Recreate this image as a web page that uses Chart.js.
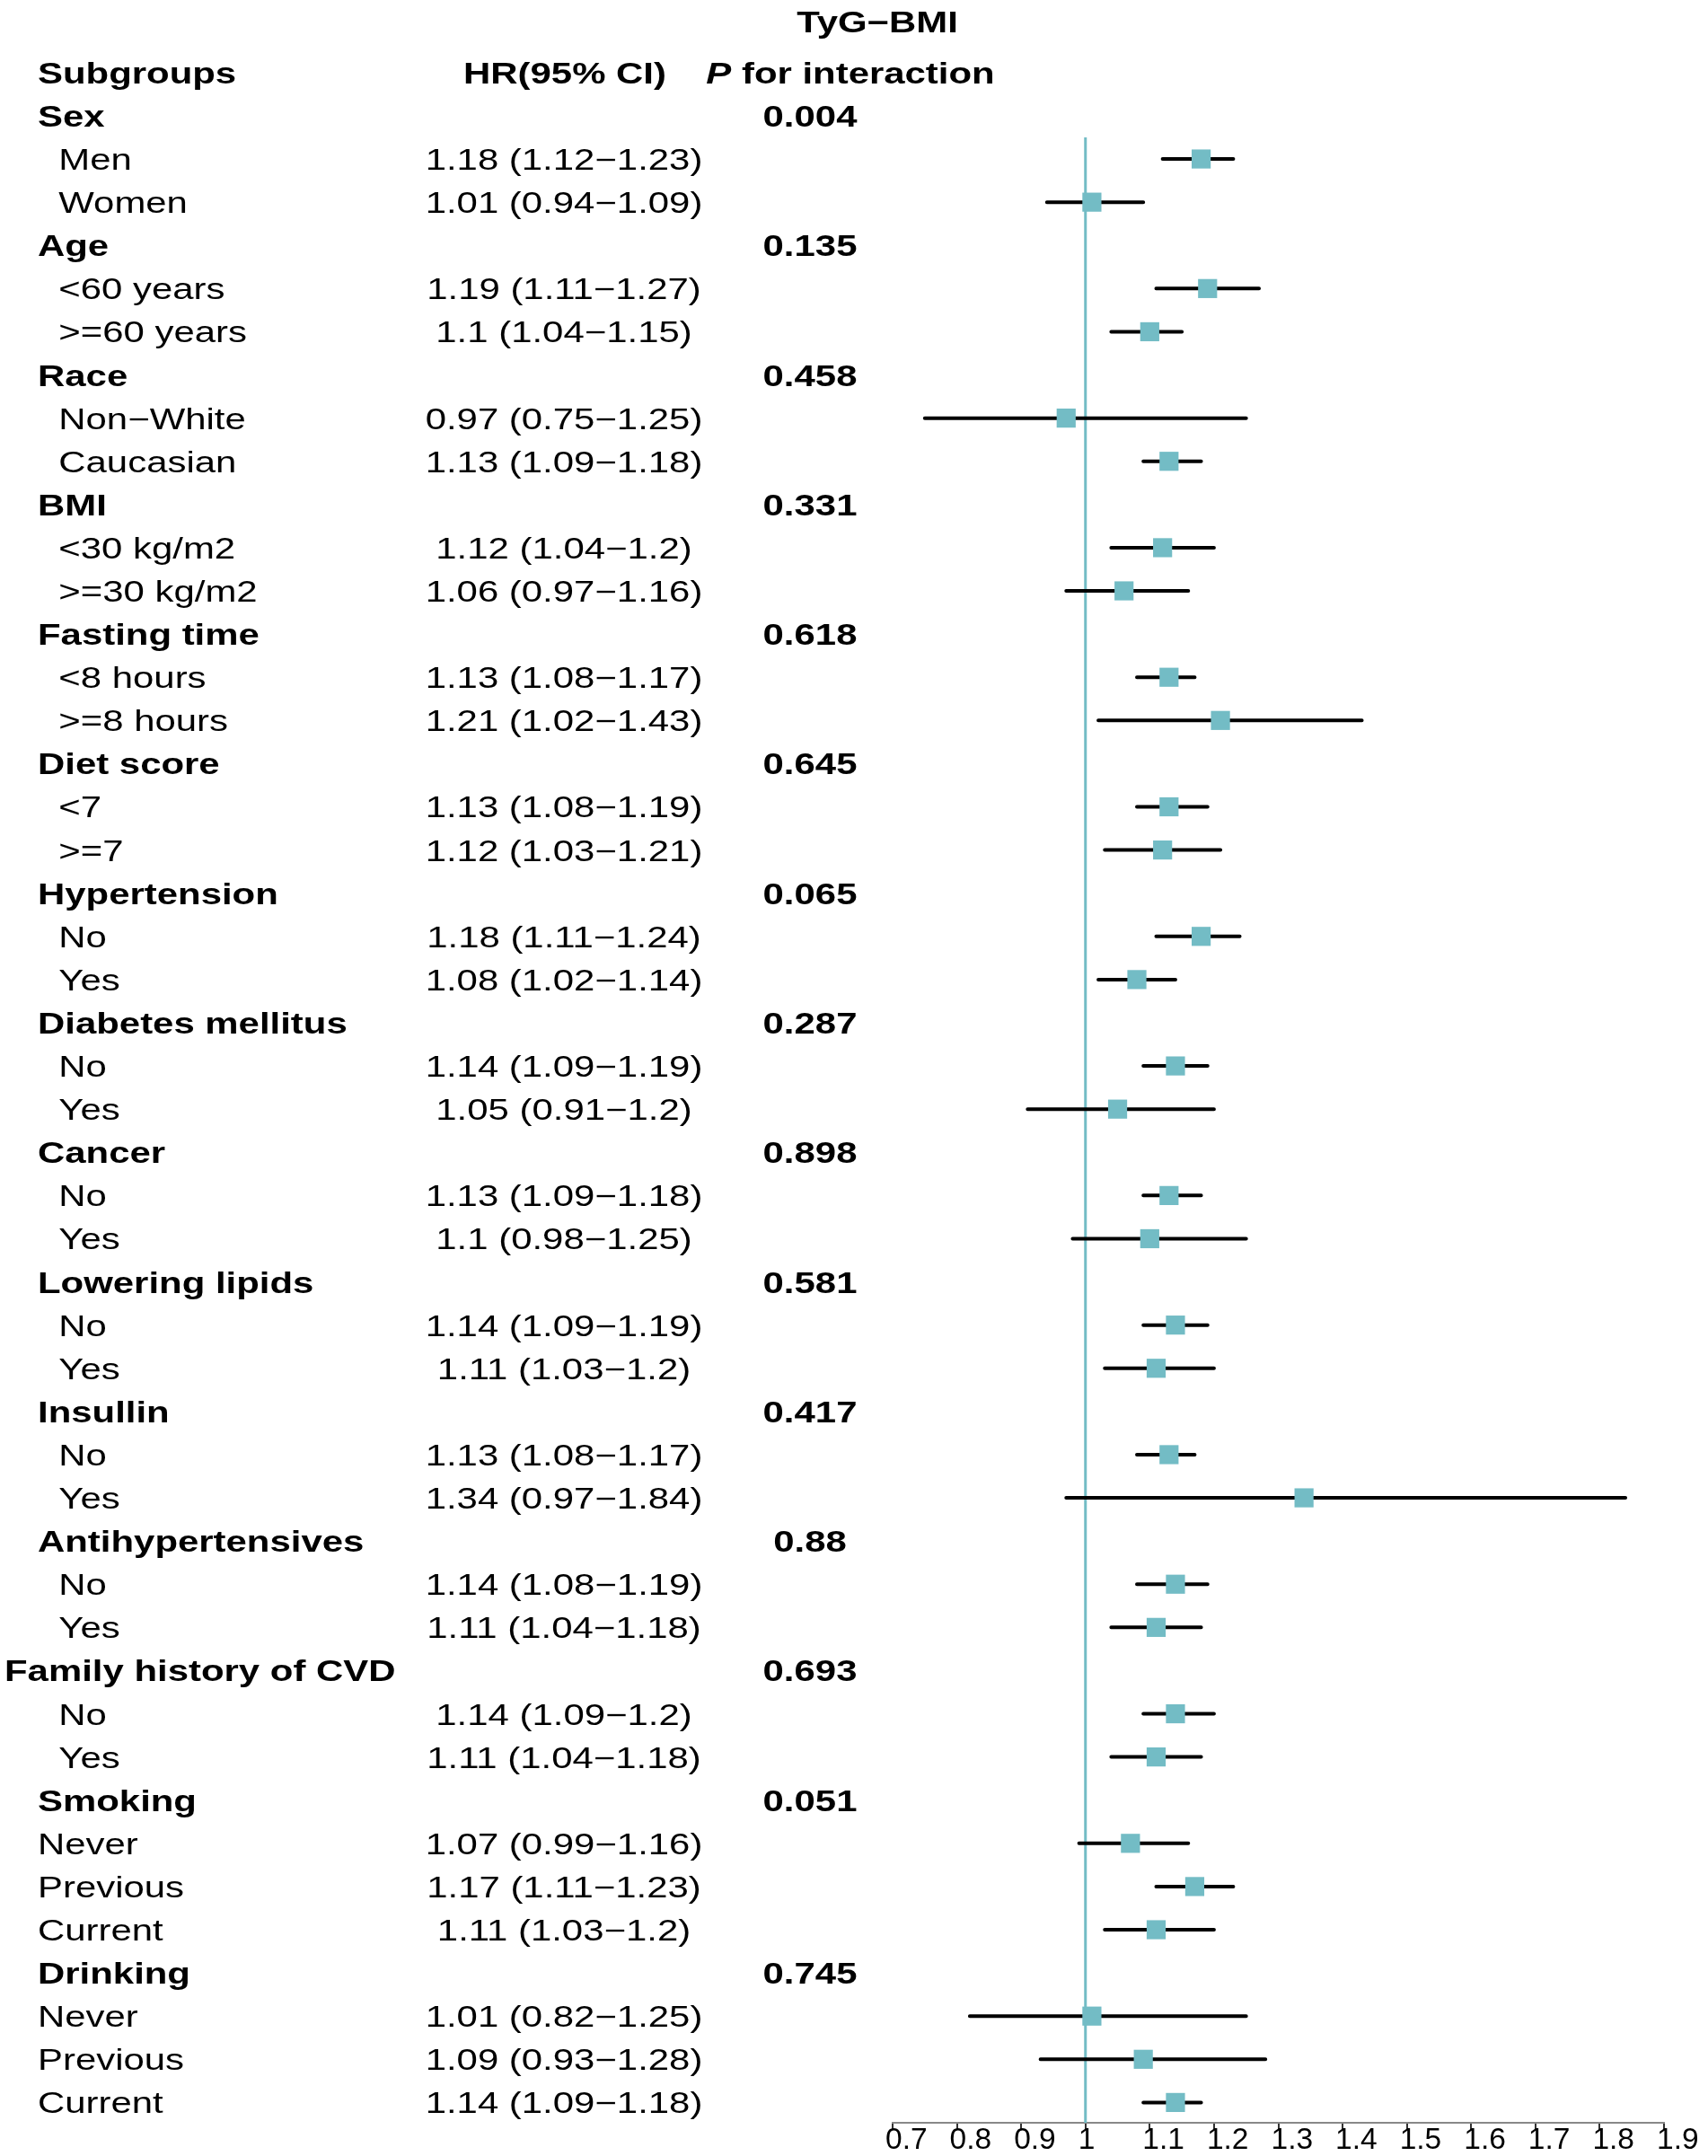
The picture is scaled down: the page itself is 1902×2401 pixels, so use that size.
<!DOCTYPE html>
<html lang="en">
<head>
  <meta charset="UTF-8">
  <title>TyG-BMI subgroup forest plot</title>
  <script src="https://cdn.jsdelivr.net/npm/chart.js"></script>
  <style>
    body {
      margin: 0;
      padding: 0;
      background: #fff;
    }
    #wrap {
      width: 1902px;
      height: 2401px;
    }
  </style>
</head>
<body>
  <div id="wrap">
    <canvas id="forest" width="1902" height="2401"></canvas>
  </div>

  <script>
    // Rows of the table, top to bottom (leading spaces = indented subgroup)
    const labels = [
      'Sex', '  Men', '  Women',
      'Age', '  <60 years', '  >=60 years',
      'Race', '  Non\u2212White', '  Caucasian',
      'BMI', '  <30 kg/m2', '  >=30 kg/m2',
      'Fasting time', '  <8 hours', '  >=8 hours',
      'Diet score', '  <7', '  >=7',
      'Hypertension', '  No', '  Yes',
      'Diabetes mellitus', '  No', '  Yes',
      'Cancer', '  No', '  Yes',
      'Lowering lipids', '  No', '  Yes',
      'Insullin', '  No', '  Yes',
      'Antihypertensives', '  No', '  Yes',
      'Family history of CVD', '  No', '  Yes',
      'Smoking', 'Never', 'Previous', 'Current',
      'Drinking', 'Never', 'Previous', 'Current'
    ];
    const hr = [
      null, 1.18, 1.01,
      null, 1.19, 1.1,
      null, 0.97, 1.13,
      null, 1.12, 1.06,
      null, 1.13, 1.21,
      null, 1.13, 1.12,
      null, 1.18, 1.08,
      null, 1.14, 1.05,
      null, 1.13, 1.1,
      null, 1.14, 1.11,
      null, 1.13, 1.34,
      null, 1.14, 1.11,
      null, 1.14, 1.11,
      null, 1.07, 1.17, 1.11,
      null, 1.01, 1.09, 1.14
    ];
    const lower = [
      null, 1.12, 0.94,
      null, 1.11, 1.04,
      null, 0.75, 1.09,
      null, 1.04, 0.97,
      null, 1.08, 1.02,
      null, 1.08, 1.03,
      null, 1.11, 1.02,
      null, 1.09, 0.91,
      null, 1.09, 0.98,
      null, 1.09, 1.03,
      null, 1.08, 0.97,
      null, 1.08, 1.04,
      null, 1.09, 1.04,
      null, 0.99, 1.11, 1.03,
      null, 0.82, 0.93, 1.09
    ];
    const upper = [
      null, 1.23, 1.09,
      null, 1.27, 1.15,
      null, 1.25, 1.18,
      null, 1.2, 1.16,
      null, 1.17, 1.43,
      null, 1.19, 1.21,
      null, 1.24, 1.14,
      null, 1.19, 1.2,
      null, 1.18, 1.25,
      null, 1.19, 1.2,
      null, 1.17, 1.84,
      null, 1.19, 1.18,
      null, 1.2, 1.18,
      null, 1.16, 1.23, 1.2,
      null, 1.25, 1.28, 1.18
    ];
    const pInteraction = [
      '0.004', '', '',
      '0.135', '', '',
      '0.458', '', '',
      '0.331', '', '',
      '0.618', '', '',
      '0.645', '', '',
      '0.065', '', '',
      '0.287', '', '',
      '0.898', '', '',
      '0.581', '', '',
      '0.417', '', '',
      '0.88', '', '',
      '0.693', '', '',
      '0.051', '', '', '',
      '0.745', '', '', ''
    ];
    const xTicks = [0.7, 0.8, 0.9, 1, 1.1, 1.2, 1.3, 1.4, 1.5, 1.6, 1.7, 1.8, 1.9];
    const title = 'TyG\u2212BMI';

    const TEAL = '#73bcc5';
    const FONT = "'Liberation Sans', Arial, sans-serif";
    const SIZE = 33;
    const SX = 1.27;   // table text in the figure is stretched sideways
    const Y_MIN = 1.5, Y_MAX = 47.47;

    // row index 1..n, header row is 0
    const rowOf = i => i + 1;

    const pointData = [];
    const ciData = [];
    hr.forEach((v, i) => {
      if (v === null) return;
      pointData.push({ x: v, y: rowOf(i) });
      ciData.push({ x: lower[i], y: rowOf(i) });
      ciData.push({ x: upper[i], y: rowOf(i) });
      ciData.push({ x: null, y: null });
    });

    function putText(ctx, str, x, y, weight, align, size, sx) {
      size = size || SIZE;
      sx = sx || SX;
      ctx.save();
      ctx.font = `${weight} ${size}px ${FONT}`;
      const w = ctx.measureText(str).width * sx;
      const left = align === 'center' ? x - w / 2 : (align === 'right' ? x - w : x);
      ctx.translate(left, y);
      ctx.scale(sx, 1);
      ctx.textAlign = 'left';
      ctx.textBaseline = 'alphabetic';
      ctx.fillStyle = '#000';
      ctx.fillText(str, 0, 0);
      ctx.restore();
    }

    const tablePlugin = {
      id: 'table',
      afterDraw(chart) {
        const ctx = chart.ctx;
        const ys = chart.scales.y;
        const xs = chart.scales.x;
        const base = v => ys.getPixelForValue(v) + 12;
        const colLabel = 42, colHR = 628, colP = 902;

        // title and header
        putText(ctx, title, 977, base(0) - 57, 'bold', 'center');
        putText(ctx, 'Subgroups', colLabel, base(0), 'bold', 'left');
        putText(ctx, 'HR(95% CI)', 629, base(0), 'bold', 'center');

        // "P for interaction" with italic P
        ctx.save();
        ctx.font = `italic bold ${SIZE}px ${FONT}`;
        const wP = ctx.measureText('P').width * SX;
        ctx.font = `bold ${SIZE}px ${FONT}`;
        const wRest = ctx.measureText(' for interaction').width * SX;
        ctx.restore();
        const startP = 947 - (wP + wRest) / 2;
        putText(ctx, 'P', startP, base(0), 'italic bold', 'left');
        putText(ctx, ' for interaction', startP + wP, base(0), 'bold', 'left');

        labels.forEach((lab, i) => {
          const r = rowOf(i);
          const isGroup = hr[i] === null;
          const x = lab === 'Family history of CVD' ? 5 : colLabel;
          putText(ctx, lab, x, base(r), isGroup ? 'bold' : 'normal', 'left');
          if (!isGroup) {
            putText(ctx, `${hr[i]} (${lower[i]}\u2212${upper[i]})`, colHR, base(r), 'normal', 'center');
          }
          if (pInteraction[i]) {
            putText(ctx, pInteraction[i], colP, base(r), 'bold', 'center');
          }
        });

        // x tick labels: first glyph sits on the tick
        xs.ticks.forEach(t => {
          const px = xs.getPixelForValue(t.value);
          putText(ctx, String(+t.value.toFixed(1)), px - 8, chart.chartArea.bottom + 29, 'normal', 'left', 33.5, 1);
        });
      }
    };

    new Chart(document.getElementById('forest'), {
      type: 'scatter',
      data: {
        datasets: [
          {
            label: 'HR',
            data: pointData,
            pointStyle: 'rect',
            pointRadius: 15,
            pointHoverRadius: 15,
            backgroundColor: TEAL,
            borderWidth: 0,
            order: 0
          },
          {
            label: '95% CI',
            data: ciData,
            showLine: true,
            spanGaps: false,
            pointRadius: 0,
            borderColor: '#000',
            borderWidth: 4,
            borderCapStyle: 'round',
            order: 1
          },
          {
            label: 'Reference',
            data: [{ x: 1, y: Y_MIN }, { x: 1, y: Y_MAX }],
            showLine: true,
            pointRadius: 0,
            borderColor: TEAL,
            borderWidth: 3,
            order: 2
          }
        ]
      },
      options: {
        responsive: false,
        animation: false,
        devicePixelRatio: 1,
        layout: { padding: { left: 994, right: 49, top: 153, bottom: 0 } },
        plugins: {
          legend: { display: false },
          tooltip: { enabled: false }
        },
        scales: {
          x: {
            type: 'linear',
            min: xTicks[0],
            max: xTicks[xTicks.length - 1],
            afterFit: s => { s.height = 37; },
            afterBuildTicks: s => { s.ticks = xTicks.map(v => ({ value: v })); },
            grid: {
              drawOnChartArea: false,
              drawTicks: true,
              tickLength: 8,
              color: '#333',
              lineWidth: 2
            },
            border: { display: true, color: '#888', width: 2 },
            ticks: { display: false }
          },
          y: {
            type: 'linear',
            display: false,
            reverse: true,
            min: Y_MIN,
            max: Y_MAX
          }
        }
      },
      plugins: [tablePlugin]
    });
  </script>
</body>
</html>
